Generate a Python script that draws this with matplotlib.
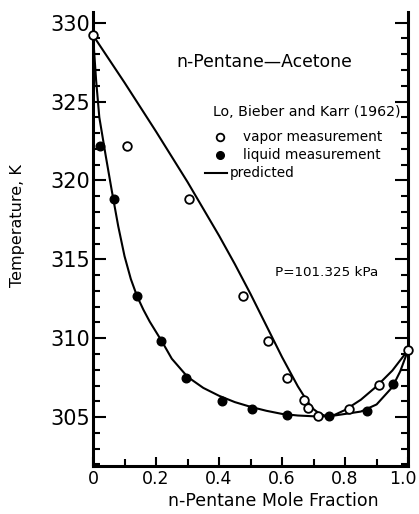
import matplotlib
matplotlib.use('Agg')
import matplotlib.pyplot as plt
from matplotlib.ticker import MultipleLocator, FuncFormatter
from matplotlib.lines import Line2D
from matplotlib.transforms import ScaledTranslation

# ---- data ----
vapor_x = [0.0, 0.107, 0.306, 0.477, 0.555, 0.617, 0.669, 0.681, 0.715, 0.813, 0.909, 1.0]
vapor_T = [329.2, 322.2, 318.8, 312.65, 309.8, 307.5, 306.1, 305.6, 305.1, 305.5, 307.05, 309.25]

liquid_x = [0.022, 0.068, 0.139, 0.217, 0.294, 0.408, 0.506, 0.617, 0.749, 0.871, 0.953]
liquid_T = [322.2, 318.8, 312.7, 309.85, 307.5, 306.0, 305.5, 305.15, 305.1, 305.4, 307.1]

dew_x = [0.0, 0.1, 0.2, 0.3, 0.4, 0.45, 0.5, 0.55, 0.6, 0.65, 0.68, 0.7, 0.72, 0.74,
         0.76, 0.8, 0.85, 0.9, 0.95, 1.0]
dew_T = [329.2, 326.2, 323.1, 319.9, 316.5, 314.7, 312.8, 310.8, 308.8, 306.95, 306.0,
         305.5, 305.2, 305.07, 305.08, 305.45, 306.1, 306.95, 307.95, 309.25]

bub_x = [0.0, 0.01, 0.02, 0.04, 0.06, 0.08, 0.1, 0.12, 0.14, 0.16, 0.18, 0.2, 0.22,
         0.25, 0.3, 0.35, 0.4, 0.45, 0.5, 0.55, 0.6, 0.65, 0.7, 0.75, 0.8, 0.85, 0.9,
         0.95, 0.975, 1.0]
bub_T = [329.2, 326.3, 324.0, 321.6, 319.3, 317.1, 315.2, 313.75, 312.65, 311.8, 311.05,
         310.4, 309.75, 308.7, 307.55, 306.85, 306.35, 305.95, 305.65, 305.4, 305.2, 305.1,
         305.05, 305.05, 305.2, 305.35, 305.8, 306.9, 307.9, 309.25]

x_ticks = [0.0, 0.2, 0.4, 0.6, 0.8, 1.0]
y_ticks = [305, 310, 315, 320, 325, 330]

title_text = "n-Pentane\u2014Acetone"
source_text = "Lo, Bieber and Karr (1962)"
legend_labels = ["vapor measurement", "liquid measurement", "predicted"]
pressure_text = "P=101.325 kPa"

fig = plt.figure(figsize=(4.19, 5.14), dpi=100)
ax = fig.add_axes([0.222, 0.0934, 0.752, 0.884])

ax.plot(dew_x, dew_T, '-', color='black', lw=1.5, clip_on=False)
ax.plot(bub_x, bub_T, '-', color='black', lw=1.5, clip_on=False)
ax.plot(vapor_x, vapor_T, 'o', mfc='white', mec='black', ms=6.2, mew=1.3,
        clip_on=False, zorder=3)
ax.plot(liquid_x, liquid_T, 'o', mfc='black', mec='black', ms=6.2,
        clip_on=False, zorder=3)

ax.set_xlim(0, 1)
ax.set_ylim(301.9, 330.7)

ax.spines['top'].set_visible(False)
for s in ['left', 'right', 'bottom']:
    ax.spines[s].set_linewidth(2.2)

ax.set_xticks(x_ticks)
ax.set_yticks(y_ticks)
ax.xaxis.set_minor_locator(MultipleLocator(0.1))
ax.yaxis.set_minor_locator(MultipleLocator(1))
ax.xaxis.set_major_formatter(FuncFormatter(lambda v, p: "0" if abs(v) < 1e-9 else f"{v:.1f}"))

ax.tick_params(axis='y', which='both', direction='in', left=True, right=True, width=1.5)
ax.tick_params(axis='y', which='major', length=9.5, labelsize=15, pad=2)
ax.tick_params(axis='y', which='minor', length=5)
ax.tick_params(axis='x', which='both', direction='in', top=False, bottom=True, width=1.5)
ax.tick_params(axis='x', which='major', length=6.5, labelsize=12.5, pad=3)
ax.tick_params(axis='x', which='minor', length=5)

last = ax.get_xticklabels()[-1]
last.set_transform(last.get_transform() + ScaledTranslation(-4 / 72, 0, fig.dpi_scale_trans))

ax.set_xlabel("n-Pentane Mole Fraction", fontsize=12.5)
ax.xaxis.set_label_coords(0.571, -0.057)
ax.set_ylabel("Temperature, K", fontsize=11.5)
ax.yaxis.set_label_coords(-0.215, 0.53)

ax.text(0.543, 0.89, title_text, transform=ax.transAxes, ha='center', va='center',
        fontsize=12.4)
ax.text(0.578, 0.425, pressure_text, transform=ax.transAxes, ha='left', va='center',
        fontsize=9.7)

# legend block
ax.text(0.381, 0.780, source_text, transform=ax.transAxes, ha='left', va='center',
        fontsize=10.2)
ax.add_line(Line2D([0.403], [0.725], transform=ax.transAxes, marker='o', ms=5.5,
                   mfc='white', mec='black', mew=1.3, ls='none'))
ax.add_line(Line2D([0.403], [0.685], transform=ax.transAxes, marker='o', ms=5.5,
                   mfc='black', mec='black', ls='none'))
ax.add_line(Line2D([0.356, 0.425], [0.645, 0.645], transform=ax.transAxes,
                   color='black', lw=1.5))
ax.text(0.476, 0.725, legend_labels[0], transform=ax.transAxes, ha='left', va='center',
        fontsize=9.8)
ax.text(0.476, 0.685, legend_labels[1], transform=ax.transAxes, ha='left', va='center',
        fontsize=9.8)
ax.text(0.435, 0.645, legend_labels[2], transform=ax.transAxes, ha='left', va='center',
        fontsize=9.8)

fig.savefig("out.png", dpi=100)
